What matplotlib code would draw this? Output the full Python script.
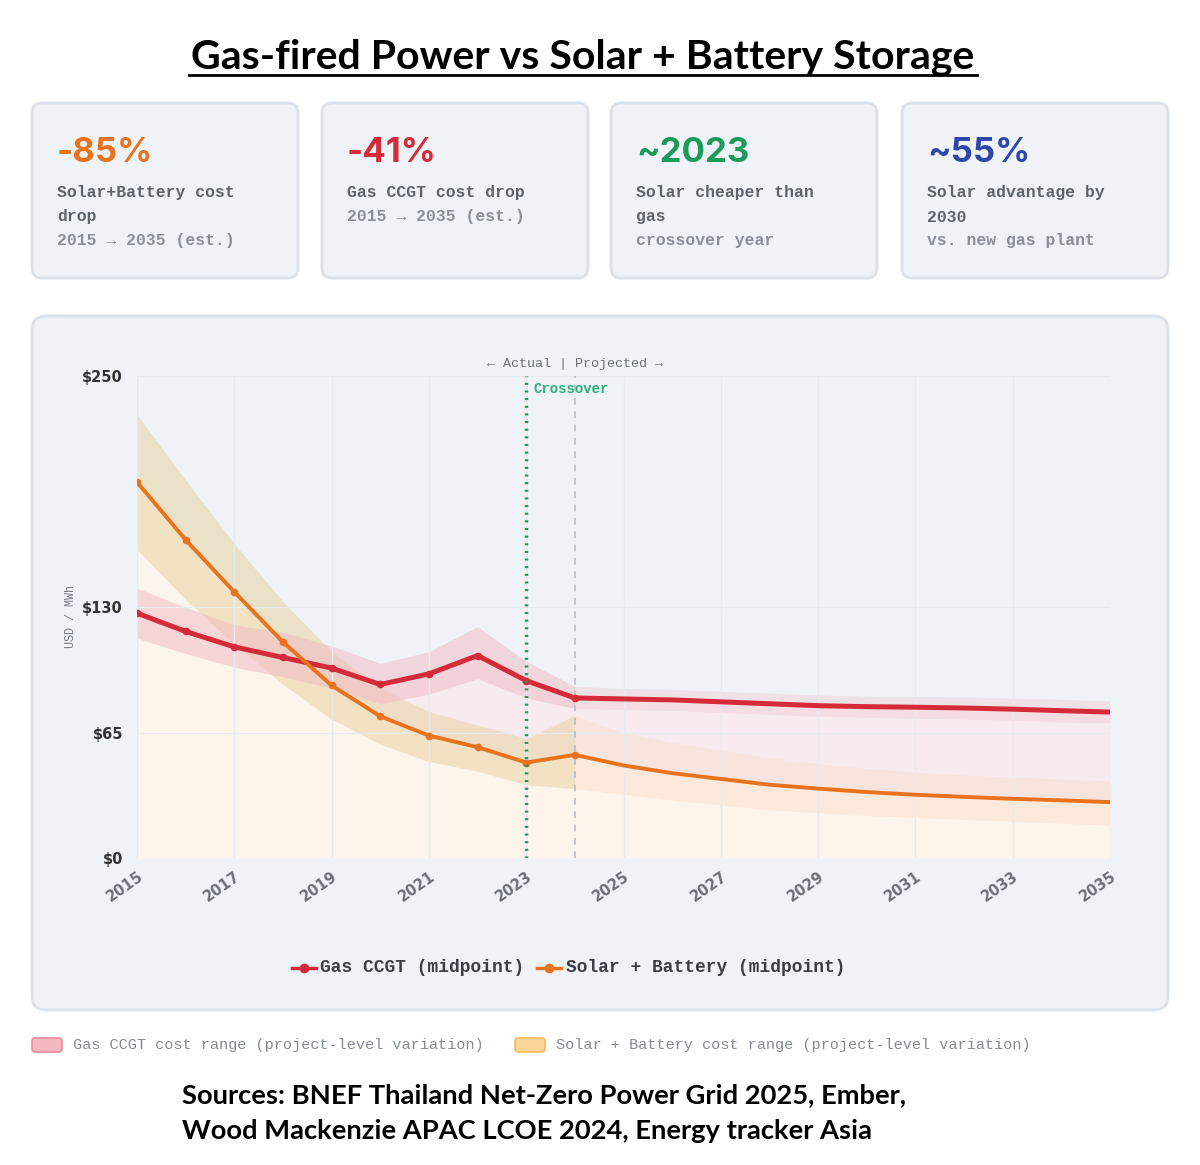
import matplotlib
matplotlib.use("Agg")
import matplotlib.pyplot as plt
import matplotlib.transforms as mtransforms
from matplotlib.patches import FancyBboxPatch
from matplotlib.lines import Line2D

W, H, DPI = 1200, 1165, 100

# ---- data ----
years = list(range(2015, 2036))
gas_mid = [127, 117.5, 109.5, 104, 98.5, 90, 95.5, 105, 92, 83,
           82.5, 82, 81, 80, 79, 78.5, 78.2, 77.8, 77.2, 76.4, 75.7]
gas_low = [114, 106, 99, 94, 88, 80, 85, 93, 83, 77.5,
           77, 76.5, 75.5, 74.5, 73.5, 73, 72.5, 72, 71.5, 70.5, 70]
gas_high = [140, 130, 121, 117, 110, 101, 107, 120, 102, 89,
            88, 87.5, 86.5, 85.5, 84.5, 84, 83.8, 83.5, 83, 82.3, 81.5]
solar_mid = [195, 165, 138, 112, 89.5, 73.5, 63.5, 57.5, 49.5, 53.5,
             48, 44, 41, 38, 36, 34.2, 32.8, 31.7, 30.7, 29.9, 29]
solar_low = [160, 134, 111, 90, 72, 59, 50, 45, 38, 36,
             33, 30, 27.5, 25, 23.5, 22, 21, 20, 19, 18, 17]
solar_high = [230, 196, 163, 133, 107, 88, 76, 69, 62, 74,
              65, 60, 56, 52, 49, 46.5, 44.5, 43, 42, 41, 40]
n_actual = 10  # 2015-2024 carry point markers
split = 9      # band style changes after 2024 (projection)

yticks = [0, 65, 130, 250]
ytick_labels = ["$0", "$65", "$130", "$250"]
xticks = list(range(2015, 2036, 2))

cards = [
    ("-85%", "#e8731c", ["Solar+Battery cost", "drop", "2015 → 2035 (est.)"]),
    ("-41%", "#d42a3a", ["Gas CCGT cost drop", "2015 → 2035 (est.)"]),
    ("~2023", "#1b9a5a", ["Solar cheaper than", "gas", "crossover year"]),
    ("~55%", "#2f47a8", ["Solar advantage by", "2030", "vs. new gas plant"]),
]
card_x = [32, 322, 611, 902]

RED = "#d42a3a"
ORANGE = "#e8731c"
PANEL = "#eff3f7"
EDGE = "#dbe1e8"
MONO = "Liberation Mono"

fig = plt.figure(figsize=(W / DPI, H / DPI), dpi=DPI)
fig.patch.set_facecolor("white")
pix = mtransforms.Affine2D().scale(1 / DPI) + fig.dpi_scale_trans


def P(x, y):
    return x, H - y


def box(x0, y0, x1, y1, r=10):
    fig.patches.append(FancyBboxPatch(P(x0, y1), x1 - x0, y1 - y0,
                                      boxstyle=f"round,pad=0,rounding_size={r}",
                                      transform=pix, facecolor=PANEL,
                                      edgecolor=EDGE, linewidth=2, zorder=-5))


def txt(x, y, s, **kw):
    fig.text(*P(x, y), s, transform=pix, **kw)


# title
txt(583, 57, "Gas-fired Power vs Solar + Battery Storage", ha="center", va="center",
    fontsize=29.5, fontweight="bold", family="Lato", color="black")
fig.lines.append(Line2D([189, 977], [H - 75, H - 75], transform=pix,
                        color="black", linewidth=2))

# stat cards
for (big, col, lines), x0 in zip(cards, card_x):
    box(x0, 103, x0 + 266, 278)
    txt(x0 + 25, 153, big, ha="left", va="center", fontsize=25,
        fontweight="bold", family="Inter", color=col)
    for i, ln in enumerate(lines):
        c = "#8a9099" if i == len(lines) - 1 else "#5e646c"
        txt(x0 + 25, 193 + 24 * i, ln, ha="left", va="center", fontsize=11.8,
            family=MONO, fontweight="bold", color=c)

# chart panel
box(32, 316, 1168, 1010, r=14)

ax = fig.add_axes([137 / W, (H - 858) / H, 973 / W, 482 / H])
ax.set_zorder(2)
ax.set_facecolor("none")

# fills under the midpoint lines
ax.fill_between(years, 0, gas_mid, color="#fbe9ee", alpha=0.7, lw=0)
ax.fill_between(years, 0, solar_mid, color="#fff6ec", alpha=0.85, lw=0)

# cost ranges: stronger over actual years, faint over projections
a, p = slice(0, split + 1), slice(split, None)
ax.fill_between(years[a], solar_low[a], solar_high[a], color="#e6cc92", alpha=0.45, lw=0)
ax.fill_between(years[p], solar_low[p], solar_high[p], color="#f9d9bd", alpha=0.35, lw=0)
ax.fill_between(years[a], gas_low[a], gas_high[a], color="#f1b8c2", alpha=0.5, lw=0)
ax.fill_between(years[p], gas_low[p], gas_high[p], color="#f3ccd5", alpha=0.45, lw=0)

ax.plot(years, gas_mid, color=RED, lw=3.6, marker="o", ms=4.5,
        markevery=list(range(n_actual)), zorder=5)
ax.plot(years, solar_mid, color=ORANGE, lw=2.8, marker="o", ms=4.5,
        markevery=list(range(n_actual)), zorder=5)

ax.axvline(2023, color="#1b9a5a", lw=2.5, ls=(0, (0.6, 1.6)), zorder=6)
ax.axvline(2024, color="#b8bec6", lw=1.2, ls=(0, (4, 4)), zorder=4)

ax.set_xlim(2015, 2035)
ax.set_ylim(0, 250)
ax.set_yticks(yticks)
ax.set_yticklabels(ytick_labels, fontsize=10.5, fontweight="bold", color="#333333")
ax.set_xticks(xticks)
ax.set_xticklabels([str(x) for x in xticks], rotation=35, ha="right",
                   rotation_mode="anchor", fontsize=10.5, fontweight="bold",
                   color="#6b7079")
ax.tick_params(length=0)
ax.tick_params(axis="y", pad=10)
ax.tick_params(axis="x", pad=8)
ax.grid(axis="x", color="#e7ebf0", lw=1)
ax.grid(axis="y", color="#e7ebf0", lw=0.8)
for s in ax.spines.values():
    s.set_visible(False)
ax.set_ylabel("USD / MWh", fontsize=8.5, family=MONO, color="#777d86", labelpad=4)

txt(575, 364, "← Actual | Projected →", ha="center", va="center",
    fontsize=9.6, family=MONO, color="#6e747c")
txt(533, 389, "Crossover", ha="left", va="center", fontsize=10,
    family=MONO, fontweight="bold", color="#2bb07a")

# in-chart legend
fig.lines.append(Line2D([292, 316], [H - 968, H - 968], transform=pix, color=RED, lw=2.5))
fig.lines.append(Line2D([304], [H - 968], transform=pix, color=RED, marker="o", ms=6))
txt(320, 968, "Gas CCGT (midpoint)", ha="left", va="center", fontsize=12.9,
    family=MONO, fontweight="bold", color="#3a3f46")
fig.lines.append(Line2D([537, 561], [H - 968, H - 968], transform=pix, color=ORANGE, lw=2.5))
fig.lines.append(Line2D([549], [H - 968], transform=pix, color=ORANGE, marker="o", ms=6))
txt(566, 968, "Solar + Battery (midpoint)", ha="left", va="center", fontsize=12.9,
    family=MONO, fontweight="bold", color="#3a3f46")

# range legend below panel
fig.patches.append(FancyBboxPatch(P(32, 1052), 30, 14, boxstyle="round,pad=0,rounding_size=3",
                                  transform=pix, facecolor="#f6b8c0", edgecolor="#ec8d9a", lw=1.2))
txt(73, 1045, "Gas CCGT cost range (project-level variation)", ha="left", va="center",
    fontsize=11, family=MONO, color="#858b93")
fig.patches.append(FancyBboxPatch(P(515, 1052), 30, 14, boxstyle="round,pad=0,rounding_size=3",
                                  transform=pix, facecolor="#f9d79a", edgecolor="#f0bb5e", lw=1.2))
txt(556, 1045, "Solar + Battery cost range (project-level variation)", ha="left", va="center",
    fontsize=11, family=MONO, color="#858b93")

# sources
txt(182, 1095, "Sources: BNEF Thailand Net-Zero Power Grid 2025, Ember,", ha="left",
    va="center", fontsize=19.7, fontweight="bold", family="Lato", color="black")
txt(182, 1131, "Wood Mackenzie APAC LCOE 2024, Energy tracker Asia", ha="left",
    va="center", fontsize=19.7, fontweight="bold", family="Lato", color="black")

fig.savefig("out.png", dpi=DPI)
